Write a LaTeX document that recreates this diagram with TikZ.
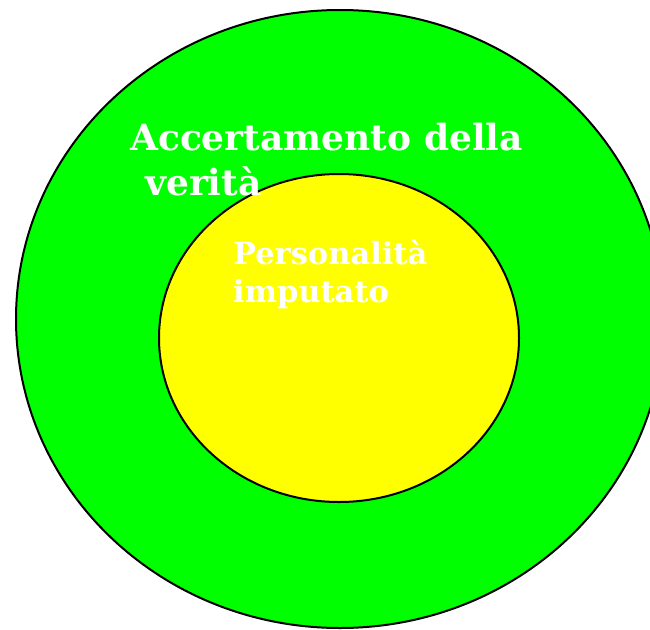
\documentclass[tikz,border=0pt]{standalone}
\usepackage{fontspec}
\setmainfont{DejaVu Serif}
\usetikzlibrary{shapes.geometric}
\definecolor{verde}{HTML}{00FF00}
\definecolor{giallo}{HTML}{FFFF00}
\tikzset{
  cerchio/.style={ellipse,draw=black,line width=2pt,inner sep=0pt},
  scritta/.style={anchor=base west,text=white,inner sep=0pt,font=\bfseries}
}
\begin{document}
\begin{tikzpicture}[x=1pt,y=-1pt]
%%
\useasboundingbox (0,0) rectangle (650,629);
\clip (0,0) rectangle (650,629);
\node (verita) at (340,319) [cerchio,fill=verde,minimum width=648pt,minimum height=618pt] {};
  \node (imputato) at (339,338) [cerchio,fill=giallo,minimum width=360pt,minimum height=328pt] {};
  \node (riga_1) at (130,150) [scritta] {\fontsize{36}{44}\selectfont Accertamento della};
  \node (riga_2) at (145,195) [scritta] {\fontsize{36}{44}\selectfont verità};
  \node (riga_3) at (233,264) [scritta] {\fontsize{30.5}{38}\selectfont Personalità};
  \node (riga_4) at (233,302) [scritta] {\fontsize{30.5}{38}\selectfont imputato};
%
\end{tikzpicture}
\end{document}
